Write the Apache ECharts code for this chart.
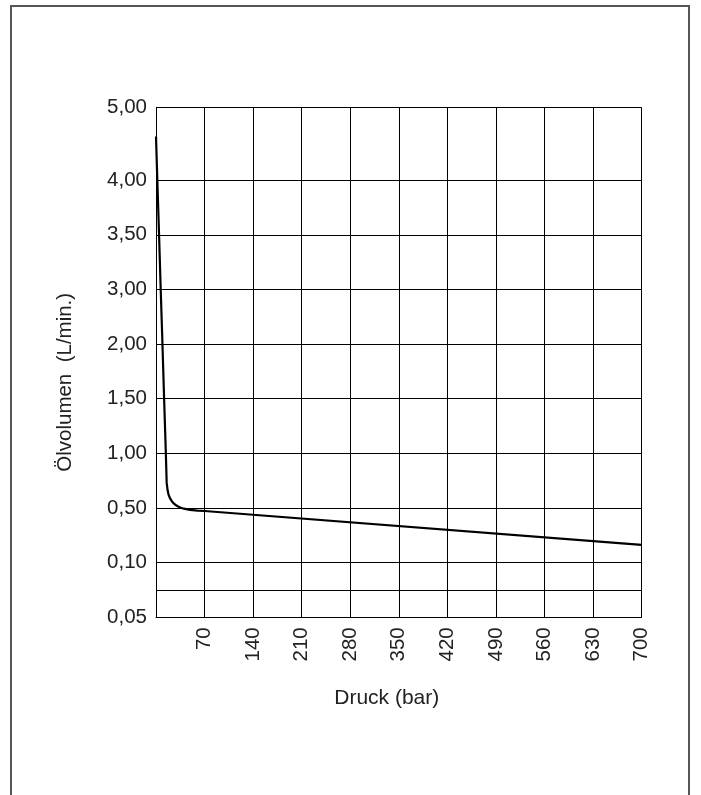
<!DOCTYPE html>
<html>
<head>
<meta charset="utf-8">
<script src="https://cdn.jsdelivr.net/npm/echarts@6/dist/echarts.min.js"></script>
<style>html,body{margin:0;padding:0;background:#fff}#c{width:701px;height:795px}</style>
</head>
<body>
<div id="c"></div>
<script>
// Pressure (bar) and oil volume (L/min)
const pressure = [0, 1.9, 4.4, 6.8, 9.3, 11.7, 14.2, 15.4, 16.8, 18.2, 20.5, 23.1, 26, 29, 32, 35, 40, 49, 60, 70, 700];
const flow     = [4.6, 4.0, 3.5, 3.0, 2.0, 1.5, 1.0, 0.73, 0.66, 0.62, 0.585, 0.56, 0.54, 0.525, 0.513, 0.505, 0.495, 0.486, 0.481, 0.478, 0.23];

// Y axis: non-linear tick scale (labelled values and their axis step index)
const yTickValues = [0.05, 0.10, 0.50, 1.00, 1.50, 2.00, 3.00, 3.50, 4.00, 5.00];
const yTickSteps  = [0, 1, 2, 3, 4, 5, 6, 7, 8, 28 / 3];
const yTickLabels = ['0,05', '0,10', '0,50', '1,00', '1,50', '2,00', '3,00', '3,50', '4,00', '5,00'];
const yExtraGridSteps = [0.5];

// X axis ticks
const xMin = 0, xMax = 700, xStep = 70;

function toStep(v) {
  for (let i = 0; i < yTickValues.length - 1; i++) {
    const a = yTickValues[i], b = yTickValues[i + 1];
    if (v <= b || i === yTickValues.length - 2) {
      return yTickSteps[i] + (v - a) / (b - a) * (yTickSteps[i + 1] - yTickSteps[i]);
    }
  }
}

const seriesData = pressure.map((p, i) => [p, toStep(flow[i])]);
const gridSteps = yExtraGridSteps.concat(yTickSteps.slice(1));

const font = 'Liberation Sans, Arial, Helvetica, sans-serif';
const chart = echarts.init(document.getElementById('c'), null, {renderer: 'canvas'});
chart.setOption({
  animation: false,
  backgroundColor: '#fff',
  graphic: [{
    type: 'rect',
    shape: {x: 11, y: 6, width: 678, height: 900},
    style: {stroke: '#555', lineWidth: 2, fill: 'none'},
    silent: true
  }],
  grid: {left: 156, right: 59.5, top: 107.3, bottom: 177.7, containLabel: false},
  xAxis: {
    type: 'value', min: xMin, max: xMax, interval: xStep,
    name: 'Druck (bar)', nameLocation: 'middle', nameGap: 70,
    nameTextStyle: {fontFamily: font, fontSize: 21, color: '#222', padding: [0, 24, 0, 0]},
    axisLine: {show: true, lineStyle: {color: '#000', width: 1}},
    axisTick: {show: false},
    axisLabel: {
      rotate: 90, margin: 10, fontFamily: font, fontSize: 20.5, color: '#222',
      formatter: v => (v === 0 ? '' : String(v))
    },
    splitLine: {show: true, lineStyle: {color: '#000', width: 1}}
  },
  yAxis: {
    type: 'value', min: 0, max: 28 / 3,
    name: 'Ölvolumen  (L/min.)', nameLocation: 'middle', nameGap: 80,
    nameTextStyle: {fontFamily: font, fontSize: 20.5, color: '#222', padding: [0, 40, 0, 0]},
    axisLine: {show: true, lineStyle: {color: '#000', width: 1}},
    axisTick: {show: false},
    splitLine: {show: false},
    axisLabel: {
      customValues: yTickSteps, margin: 9, fontFamily: font, fontSize: 20.5, color: '#222',
      formatter: v => {
        let best = 0;
        yTickSteps.forEach((s, i) => { if (Math.abs(s - v) < Math.abs(yTickSteps[best] - v)) best = i; });
        return yTickLabels[best];
      }
    }
  },
  series: [{
    type: 'line',
    data: seriesData,
    symbol: 'none',
    smooth: false,
    lineStyle: {color: '#000', width: 2.2},
    z: 5,
    markLine: {
      silent: true, symbol: 'none', animation: false,
      label: {show: false},
      lineStyle: {color: '#000', width: 1, type: 'solid'},
      emphasis: {disabled: true},
      data: gridSteps.map(s => ({yAxis: s}))
    }
  }]
});
</script>
</body>
</html>
